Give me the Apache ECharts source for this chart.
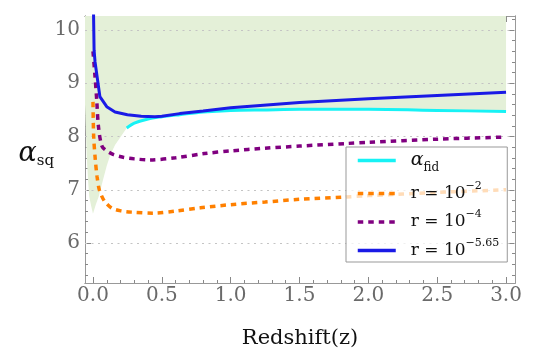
<!DOCTYPE html>
<html>
<head>
<meta charset="utf-8">
<script src="https://cdn.jsdelivr.net/npm/echarts@6/dist/echarts.min.js"></script>
<style>
html,body{margin:0;padding:0;background:#fff;}
#main{width:540px;height:364px;}
</style>
</head>
<body>
<div id="main"></div>
<script>
// ---- data ----
const xTicks = [0, 0.5, 1, 1.5, 2, 2.5, 3];
const xMinorTicks = [0, 0.1, 0.2, 0.3, 0.4, 0.5, 0.6, 0.7, 0.8, 0.9, 1, 1.1, 1.2, 1.3, 1.4, 1.5, 1.6, 1.7, 1.8, 1.9, 2, 2.1, 2.2, 2.3, 2.4, 2.5, 2.6, 2.7, 2.8, 2.9, 3];
const yTicks = [6, 7, 8, 9, 10];
const yMinorTicks = [5.4, 5.6, 5.8, 6, 6.2, 6.4, 6.6, 6.8, 7, 7.2, 7.4, 7.6, 7.8, 8, 8.2, 8.4, 8.6, 8.8, 9, 9.2, 9.4, 9.6, 9.8, 10, 10.2];

// fiducial alpha
const zFid     = [0.245, 0.3, 0.4, 0.5, 0.63, 0.8, 1.0, 1.25, 1.5, 2.0, 2.5, 3.0];
const alphaFid = [8.16, 8.25, 8.33, 8.37, 8.41, 8.46, 8.49, 8.50, 8.51, 8.51, 8.49, 8.47];

// allowed (shaded) region: lower boundary, filled up to the top
const zFill   = [-0.058, -0.045, -0.036, -0.027, -0.012, 0, 0.02, 0.041, 0.073, 0.1, 0.125, 0.16, 0.2, 0.245, 0.3, 0.4, 0.5, 0.63, 0.8, 1.0, 1.25, 1.5, 2.0, 2.5, 3.0];
const lowFill = [8.6, 7.6, 7.19, 6.87, 6.68, 6.55, 6.72, 6.87, 7.19, 7.45, 7.65, 7.84, 7.99, 8.16, 8.25, 8.33, 8.37, 8.41, 8.46, 8.49, 8.50, 8.51, 8.51, 8.49, 8.47];

// r = 10^-2
const zR2 = [0, 0.005, 0.017, 0.03, 0.047, 0.085, 0.14, 0.21, 0.28, 0.44, 0.6, 0.78, 1.0, 1.25, 1.5, 1.82, 2.0, 2.5, 3.0];
const aR2 = [8.65, 8.0, 7.56, 7.24, 6.99, 6.78, 6.65, 6.6, 6.58, 6.56, 6.6, 6.66, 6.72, 6.77, 6.82, 6.86, 6.89, 6.95, 7.0];

// r = 10^-4
const zR4 = [0, 0.015, 0.027, 0.04, 0.065, 0.1, 0.15, 0.22, 0.3, 0.41, 0.6, 0.81, 1.0, 1.25, 1.5, 1.85, 2.0, 2.5, 3.0];
const aR4 = [9.6, 9.12, 8.69, 8.18, 7.82, 7.73, 7.66, 7.61, 7.58, 7.56, 7.6, 7.68, 7.73, 7.78, 7.82, 7.87, 7.89, 7.95, 7.99];

// r = 10^-5.65
const zR565 = [0, 0.008, 0.015, 0.05, 0.1, 0.16, 0.25, 0.35, 0.45, 0.5, 0.63, 0.8, 1.0, 1.5, 2.0, 2.5, 3.0];
const aR565 = [11, 9.62, 9.4, 8.75, 8.56, 8.46, 8.41, 8.38, 8.37, 8.38, 8.43, 8.48, 8.54, 8.64, 8.71, 8.77, 8.83];

const pairs = (xs, ys) => xs.map((x, i) => [x, ys[i]]);

const FONT = 'DejaVu Serif';
const X_MIN = -0.058, X_MAX = 3.065, Y_MIN = 5.249, Y_MAX = 10.263;
const AX = '#999', TK = '#888';

function xAxisDef(pos, vals, len, withLabel) {
  return {
    type: 'value', position: pos, min: X_MIN, max: X_MAX,
    axisLine: { show: true, onZero: false, lineStyle: { color: AX, width: 1 } },
    axisTick: { show: true, inside: true, length: len, customValues: vals, lineStyle: { color: TK } },
    axisLabel: withLabel ? {
      show: true, customValues: vals, margin: 3,
      formatter: v => Number(v).toFixed(1),
      fontFamily: FONT, fontSize: 20, color: '#6a6a6a'
    } : { show: false },
    splitLine: { show: false }
  };
}
function yAxisDef(pos, vals, len, withLabel) {
  return {
    type: 'value', position: pos, min: Y_MIN, max: Y_MAX,
    axisLine: { show: true, onZero: false, lineStyle: { color: AX, width: 1 } },
    axisTick: { show: true, inside: true, length: len, customValues: vals, lineStyle: { color: TK } },
    axisLabel: withLabel ? {
      show: true, customValues: vals, margin: 5,
      formatter: v => String(Math.round(v)),
      fontFamily: FONT, fontSize: 20, color: '#6a6a6a'
    } : { show: false },
    splitLine: { show: false }
  };
}

const xa0 = xAxisDef('bottom', xTicks, 6, true);
xa0.name = 'Redshift(z)';
xa0.nameLocation = 'middle';
xa0.nameGap = 45;
xa0.nameMoveOverlap = false;
xa0.nameTextStyle = { fontFamily: FONT, fontSize: 21, color: '#111' };

const ya0 = yAxisDef('left', yTicks, 6, true);
ya0.name = '{it|α}{sub|sq}';
ya0.nameLocation = 'middle';
ya0.nameRotate = 0;
ya0.nameGap = 31;
ya0.nameMoveOverlap = false;
ya0.nameTextStyle = {
  rich: {
    it: { fontFamily: FONT, fontSize: 27, fontStyle: 'italic', color: '#111', lineHeight: 30, verticalAlign: 'middle' },
    sub: { fontFamily: FONT, fontSize: 15, color: '#111', lineHeight: 16, verticalAlign: 'bottom' }
  },
  padding: [8, 0, 0, 0]
};

const legendText = {
  'α_fid': '{it|α}{sub|fid}',
  'r = 10^-2': '{t|r = 10}{sup|−2}',
  'r = 10^-4': '{t|r = 10}{sup|−4}',
  'r = 10^-5.65': '{t|r = 10}{sup|−5.65}'
};

const lineZ = 10;
const option = {
  animation: false,
  backgroundColor: '#fff',
  grid: { left: 85, right: 25, top: 16, bottom: 81, containLabel: false },
  xAxis: [
    xa0,
    xAxisDef('bottom', xMinorTicks, 3, false),
    xAxisDef('top', xTicks, 6, false),
    xAxisDef('top', xMinorTicks, 3, false)
  ],
  yAxis: [
    ya0,
    yAxisDef('left', yMinorTicks, 3, false),
    yAxisDef('right', yTicks, 6, false),
    yAxisDef('right', yMinorTicks, 3, false)
  ],
  legend: {
    data: ['α_fid', 'r = 10^-2', 'r = 10^-4', 'r = 10^-5.65'],
    orient: 'vertical', left: 346, top: 147, z: 30,
    padding: [4, 8, 3, 10], itemGap: 7,
    itemWidth: 38, itemHeight: 14,
    backgroundColor: 'rgba(255,255,255,0.72)',
    borderColor: '#999', borderWidth: 1, borderRadius: 0,
    selectedMode: false,
    itemStyle: { opacity: 0 },
    lineStyle: { width: 3.5 },
    formatter: n => legendText[n],
    textStyle: {
      padding: [0, 0, 0, 10],
      rich: {
        t: { fontFamily: FONT, fontSize: 17, color: '#111', lineHeight: 26, verticalAlign: 'middle' },
        it: { fontFamily: FONT, fontSize: 19, fontStyle: 'italic', color: '#111', lineHeight: 26, verticalAlign: 'middle' },
        sup: { fontFamily: FONT, fontSize: 11, color: '#111', lineHeight: 18, verticalAlign: 'top' },
        sub: { fontFamily: FONT, fontSize: 12, color: '#111', lineHeight: 14, verticalAlign: 'bottom' }
      }
    }
  },
  series: [
    {
      name: 'allowed', type: 'line', data: pairs(zFill, lowFill),
      symbol: 'none', silent: true, z: 1,
      lineStyle: { width: 0, opacity: 0 },
      areaStyle: { origin: 'end', color: '#e4f0d8', opacity: 1 },
      markLine: {
        silent: true, symbol: ['none', 'none'], label: { show: false },
        lineStyle: { type: [2, 4.5], color: '#c4c4c4', width: 1 },
        data: yTicks.map(v => ({ yAxis: v }))
      }
    },
    {
      name: 'α_fid', type: 'line', data: pairs(zFid, alphaFid),
      symbol: 'none', z: lineZ, smooth: 0.3,
      lineStyle: { color: '#17f2f5', width: 3 }, itemStyle: { color: '#17f2f5' }
    },
    {
      name: 'r = 10^-2', type: 'line', data: pairs(zR2, aR2),
      symbol: 'none', z: lineZ, smooth: 0.3,
      lineStyle: { color: '#ff8000', width: 3.5, type: [5.5, 5] }, itemStyle: { color: '#ff8000' }
    },
    {
      name: 'r = 10^-4', type: 'line', data: pairs(zR4, aR4),
      symbol: 'none', z: lineZ, smooth: 0.3,
      lineStyle: { color: '#800080', width: 3.5, type: [5.5, 5] }, itemStyle: { color: '#800080' }
    },
    {
      name: 'r = 10^-5.65', type: 'line', data: pairs(zR565, aR565),
      symbol: 'none', z: lineZ,
      lineStyle: { color: '#1a1ae6', width: 3 }, itemStyle: { color: '#1a1ae6' }
    }
  ]
};

const chart = echarts.init(document.getElementById('main'), null, { renderer: 'canvas' });
chart.setOption(option);
</script>
</body>
</html>
